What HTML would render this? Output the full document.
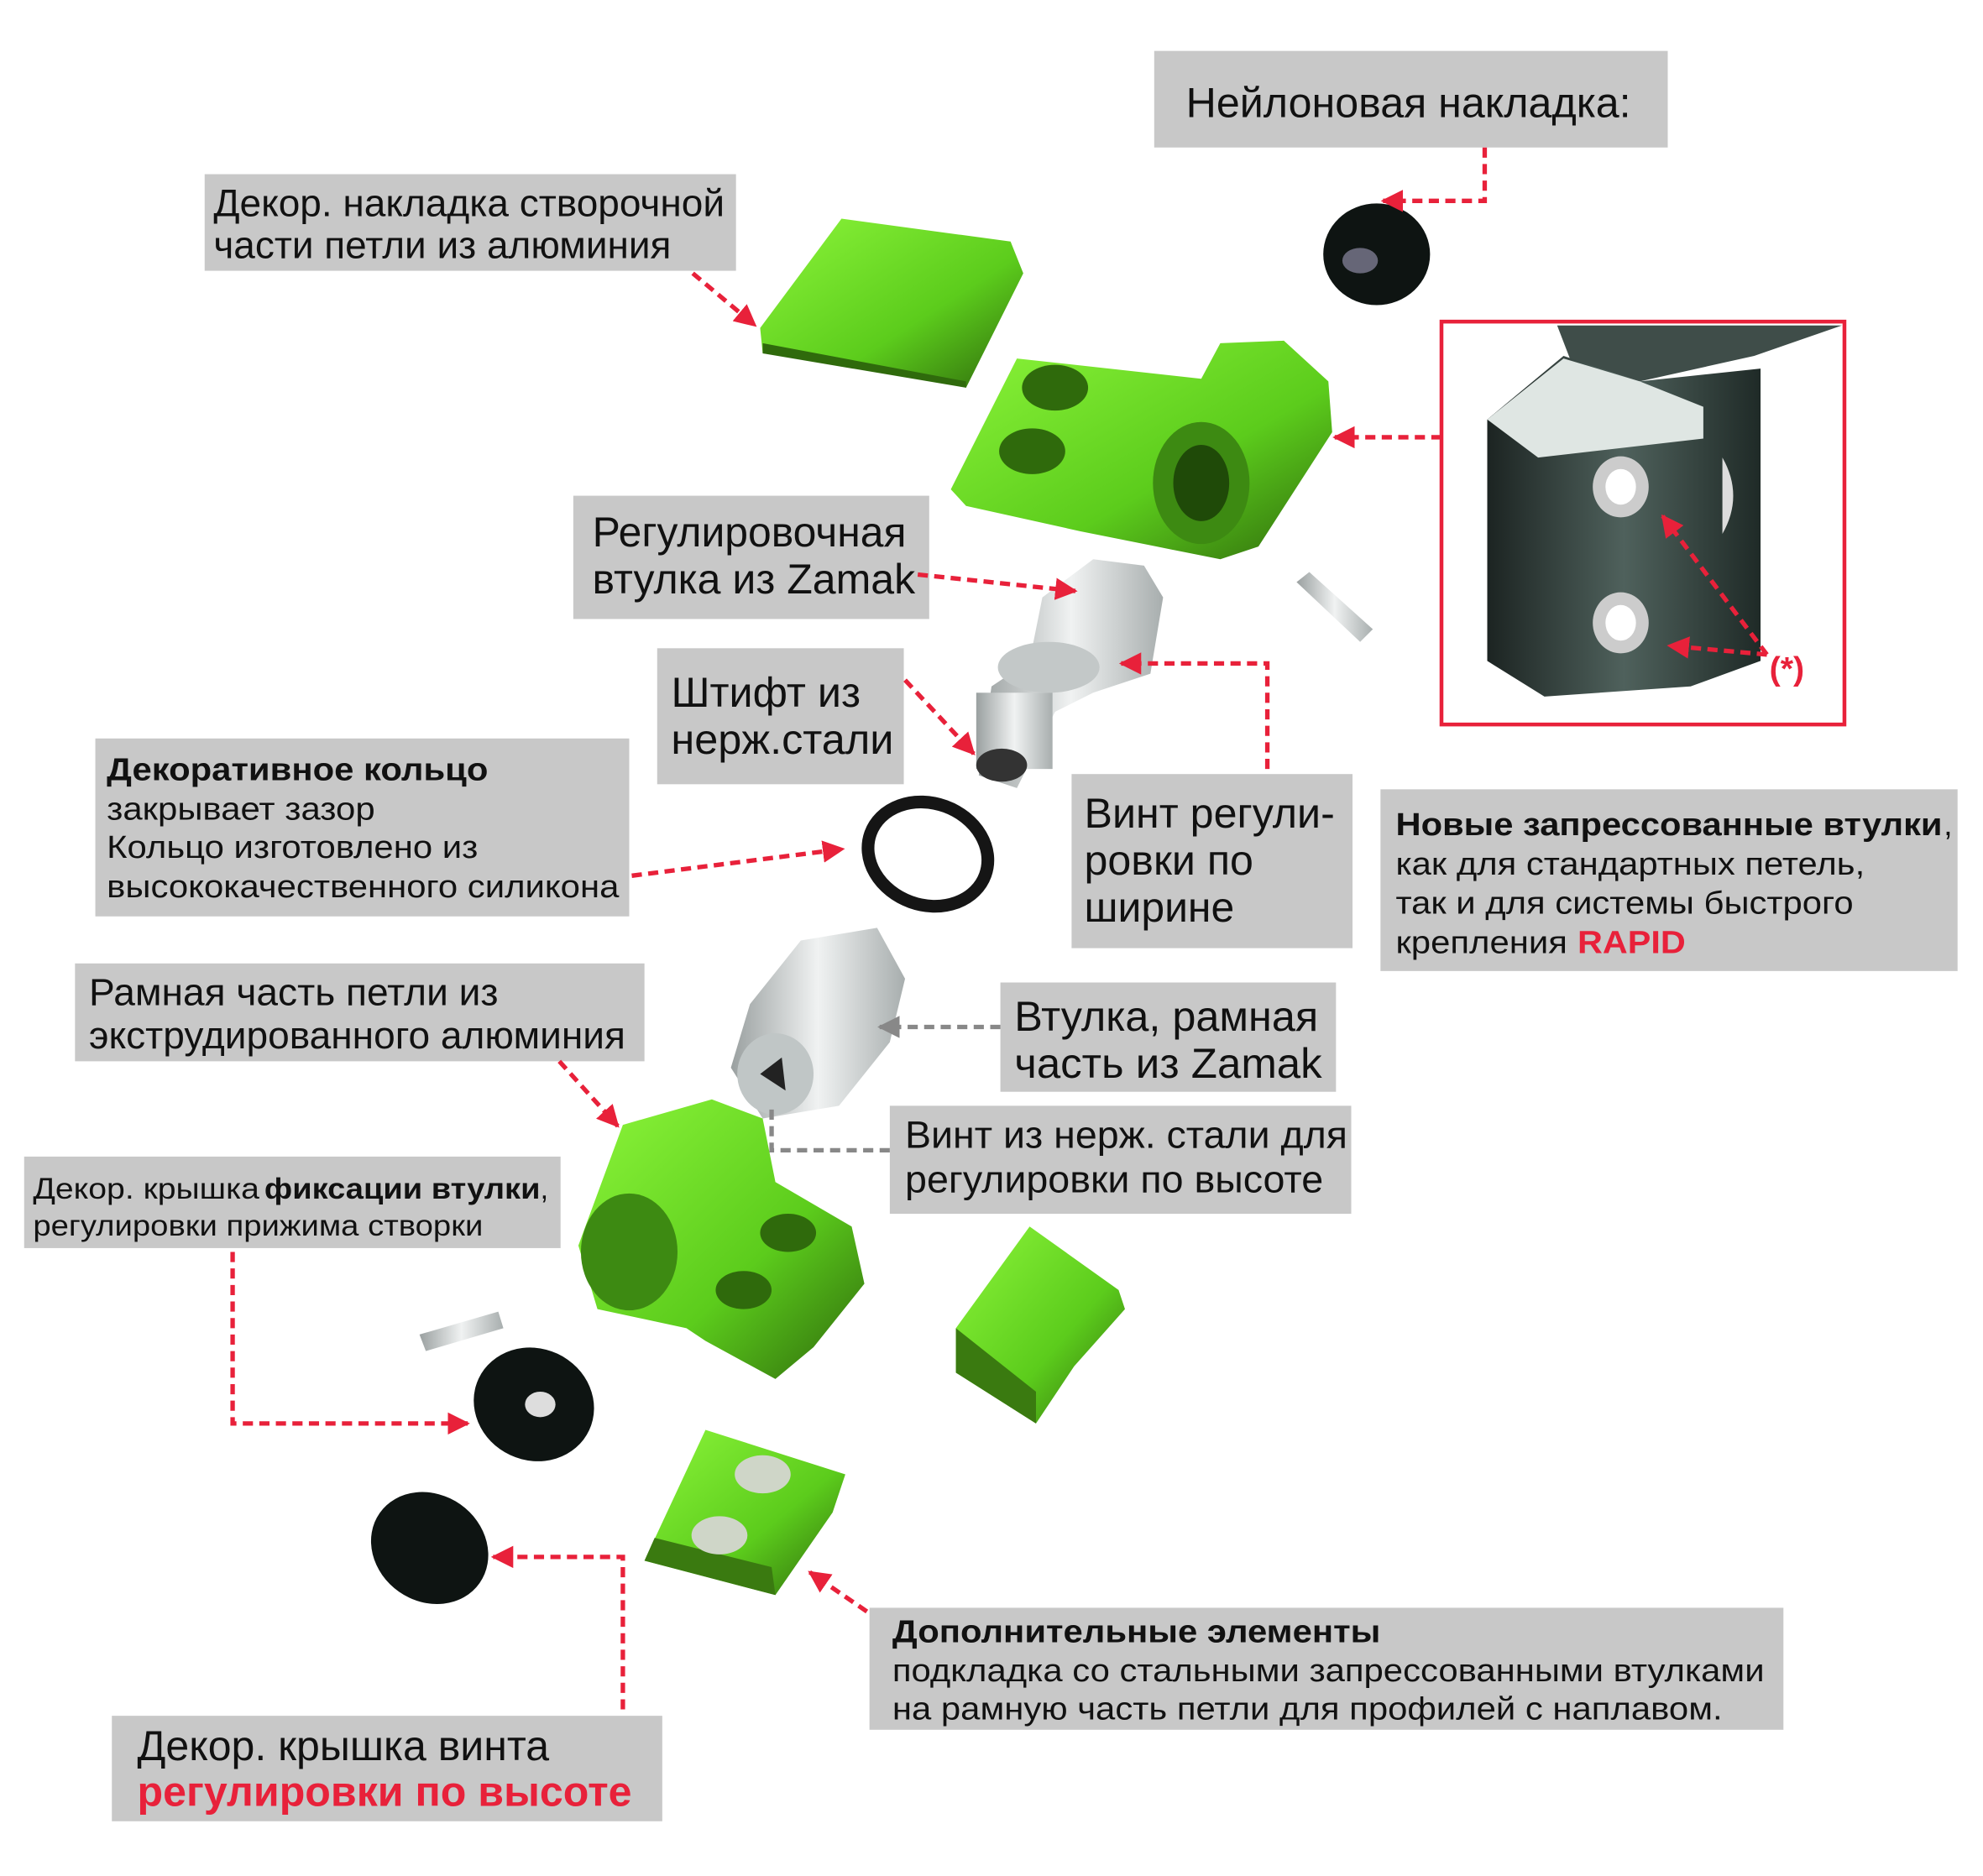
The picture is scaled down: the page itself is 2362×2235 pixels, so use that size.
<!DOCTYPE html>
<html><head><meta charset="utf-8"><style>
html,body{margin:0;padding:0;background:#fff;}
svg{display:block;}
text{font-family:"Liberation Sans","Noto Sans CJK SC",sans-serif;fill:#111;}
</style></head><body>
<svg width="2362" height="2235" viewBox="0 0 1560 1476" xmlns="http://www.w3.org/2000/svg">
<defs>
<marker id="ar" viewBox="0 0 10 10" refX="9" refY="5" markerWidth="5" markerHeight="5" orient="auto"><path d="M0,0 L10,5 L0,10 z" fill="#e8213a"/></marker>
<marker id="ag" viewBox="0 0 10 10" refX="9" refY="5" markerWidth="5" markerHeight="5" orient="auto"><path d="M0,0 L10,5 L0,10 z" fill="#888"/></marker>
<linearGradient id="gr" x1="0" y1="0" x2="1" y2="1"><stop offset="0" stop-color="#8cf53a"/><stop offset="0.6" stop-color="#5ccc1c"/><stop offset="1" stop-color="#2f6a0c"/></linearGradient>
<linearGradient id="mt" x1="0" y1="0" x2="1" y2="0"><stop offset="0" stop-color="#9aa0a0"/><stop offset="0.5" stop-color="#f0f2f2"/><stop offset="1" stop-color="#a8aeae"/></linearGradient>
<linearGradient id="bx" x1="0" y1="0" x2="1" y2="0"><stop offset="0" stop-color="#1c2422"/><stop offset="0.5" stop-color="#4f615c"/><stop offset="1" stop-color="#1f2a27"/></linearGradient>
</defs>

<g fill="#c8c8c8">
<rect x="908" y="40" width="404" height="76"/>
<rect x="161" y="137" width="418" height="76"/>
<rect x="451" y="390" width="280" height="97"/>
<rect x="517" y="510" width="194" height="107"/>
<rect x="75" y="581" width="420" height="140"/>
<rect x="843" y="609" width="221" height="137"/>
<rect x="1086" y="621" width="454" height="143"/>
<rect x="59" y="758" width="448" height="77"/>
<rect x="787" y="773" width="264" height="86"/>
<rect x="700" y="870" width="363" height="85"/>
<rect x="19" y="910" width="422" height="72"/>
<rect x="684" y="1265" width="719" height="96"/>
<rect x="88" y="1350" width="433" height="83"/>
</g>

<path d="M598,258 L662,172 L795,190 L805,215 L760,305 L700,290 L600,278 Z" fill="url(#gr)"/>
<path d="M600,270 L760,300 L760,305 L600,278Z" fill="#2f6a0c"/>
<path d="M748,385 L800,282 L945,298 L960,270 L1010,268 L1045,300 L1048,340 L990,430 L960,440 L910,430 L850,418 L760,398 Z" fill="url(#gr)"/>
<ellipse cx="830" cy="305" rx="26" ry="18" fill="#2f6a0c"/>
<ellipse cx="812" cy="355" rx="26" ry="18" fill="#2f6a0c"/>
<ellipse cx="945" cy="380" rx="38" ry="48" fill="#3d8a12"/>
<ellipse cx="945" cy="380" rx="22" ry="30" fill="#1f4a08"/>
<path d="M1020,458 L1070,505 L1080,495 L1030,450Z" fill="url(#mt)"/>
<ellipse cx="1083" cy="200" rx="42" ry="40" fill="#0e1412"/>
<ellipse cx="1070" cy="205" rx="14" ry="10" fill="#667"/>
<rect x="1134" y="253" width="317" height="317" fill="#fff" stroke="#e8213a" stroke-width="3"/>
<path d="M1225,256 L1449,256 L1380,280 L1290,300 L1240,295Z" fill="#3f4d49"/>
<path d="M1170,330 L1230,280 L1290,300 L1385,290 L1385,520 L1330,540 L1215,548 L1170,520Z" fill="url(#bx)"/>
<path d="M1170,330 L1230,282 L1290,300 L1340,320 L1340,345 L1210,360 Z" fill="#dfe6e3"/>
<ellipse cx="1275" cy="383" rx="22" ry="24" fill="#ccc"/><ellipse cx="1275" cy="383" rx="12" ry="14" fill="#fff"/>
<ellipse cx="1275" cy="490" rx="22" ry="24" fill="#ccc"/><ellipse cx="1275" cy="490" rx="12" ry="14" fill="#fff"/>
<path d="M1355,360 Q1372,390 1355,420 Z" fill="#ddd"/>
<text x="1392" y="535" style="fill:#e8213a;font-weight:bold;font-size:26px">(*)</text>
<path d="M820,470 L860,440 L900,445 L915,470 L905,530 L860,545 L830,560 L800,620 L770,610 L780,540 L810,520Z" fill="url(#mt)"/>
<ellipse cx="825" cy="525" rx="40" ry="20" fill="#c3c8c8"/>
<rect x="768" y="545" width="60" height="60" fill="url(#mt)"/>
<ellipse cx="788" cy="602" rx="20" ry="13" fill="#333"/>
<ellipse cx="730" cy="672" rx="48" ry="40" fill="none" stroke="#151515" stroke-width="10" transform="rotate(20 730 672)"/>
<path d="M630,740 L690,730 L712,770 L700,820 L660,870 L600,880 L575,840 L590,790Z" fill="url(#mt)"/>
<ellipse cx="610" cy="845" rx="30" ry="32" fill="#c0c6c6"/>
<path d="M598,845 L615,832 L618,858Z" fill="#222"/>
<path d="M455,980 L490,885 L560,865 L600,880 L610,930 L670,965 L680,1010 L640,1060 L610,1085 L555,1055 L540,1045 L470,1030 Z" fill="url(#gr)"/>
<ellipse cx="495" cy="985" rx="38" ry="46" fill="#3d8a12"/>
<ellipse cx="620" cy="970" rx="22" ry="15" fill="#2f6a0c"/>
<ellipse cx="585" cy="1015" rx="22" ry="15" fill="#2f6a0c"/>
<path d="M752,1045 L810,965 L880,1015 L885,1030 L845,1075 L815,1120 L752,1080Z" fill="url(#gr)"/>
<path d="M752,1045 L815,1095 L815,1120 L752,1080Z" fill="#3a7a10"/>
<path d="M507,1228 L555,1125 L665,1160 L655,1190 L610,1255 Z" fill="url(#gr)"/>
<path d="M507,1228 L610,1255 L607,1233 L515,1210Z" fill="#3a7a10"/>
<ellipse cx="600" cy="1160" rx="22" ry="15" fill="#cfd6c8"/>
<ellipse cx="566" cy="1208" rx="22" ry="15" fill="#cfd6c8"/>
<path d="M330,1050 L392,1032 L396,1045 L335,1063Z" fill="url(#mt)"/>
<ellipse cx="420" cy="1105" rx="48" ry="44" fill="#0e1412" transform="rotate(25 420 1105)"/>
<ellipse cx="425" cy="1105" rx="12" ry="10" fill="#ddd"/>
<ellipse cx="338" cy="1218" rx="48" ry="42" fill="#0e1412" transform="rotate(35 338 1218)"/>

<g fill="none" stroke="#e8213a" stroke-width="3.5" stroke-dasharray="8,5">
<path d="M1168,116 L1168,158 L1088,158" marker-end="url(#ar)"/>
<path d="M1134,344 L1050,344" marker-end="url(#ar)"/>
<path d="M545,215 L594,256" marker-end="url(#ar)"/>
<path d="M722,452 L846,465" marker-end="url(#ar)"/>
<path d="M997,605 L997,522 L882,522" marker-end="url(#ar)"/>
<path d="M712,535 L766,593" marker-end="url(#ar)"/>
<path d="M497,689 L663,668" marker-end="url(#ar)"/>
<path d="M440,835 L486,886" marker-end="url(#ar)"/>
<path d="M183,985 L183,1120 L368,1120" marker-end="url(#ar)"/>
<path d="M490,1345 L490,1225 L388,1225" marker-end="url(#ar)"/>
<path d="M682,1268 L637,1237" marker-end="url(#ar)"/>
<path d="M1390,515 L1308,406" marker-end="url(#ar)"/>
<path d="M1390,515 L1313,508" marker-end="url(#ar)"/>
</g>
<g fill="none" stroke="#888" stroke-width="3.5" stroke-dasharray="8,5">
<path d="M787,808 L692,808" marker-end="url(#ag)"/>
<path d="M700,905 L607,905 L607,872"/>
</g>

<g lengthAdjust="spacingAndGlyphs">
<text x="933" y="92" font-size="33" textLength="350" lengthAdjust="spacingAndGlyphs">Нейлоновая накладка:</text>
<text x="168" y="170" font-size="30" textLength="402" lengthAdjust="spacingAndGlyphs">Декор. накладка створочной</text>
<text x="168" y="203" font-size="30" textLength="360" lengthAdjust="spacingAndGlyphs">части петли из алюминия</text>
<text x="466" y="430" font-size="33" textLength="247" lengthAdjust="spacingAndGlyphs">Регулировочная</text>
<text x="466" y="467" font-size="33" textLength="254" lengthAdjust="spacingAndGlyphs">втулка из Zamak</text>
<text x="528" y="556" font-size="33" textLength="149" lengthAdjust="spacingAndGlyphs">Штифт из</text>
<text x="528" y="593" font-size="33" textLength="175" lengthAdjust="spacingAndGlyphs">нерж.стали</text>
<text x="84" y="614" font-size="25" font-weight="bold" textLength="300" lengthAdjust="spacingAndGlyphs">Декоративное кольцо</text>
<text x="84" y="645" font-size="25" textLength="211" lengthAdjust="spacingAndGlyphs">закрывает зазор</text>
<text x="84" y="675" font-size="25" textLength="292" lengthAdjust="spacingAndGlyphs">Кольцо изготовлено из</text>
<text x="84" y="706" font-size="25" textLength="403" lengthAdjust="spacingAndGlyphs">высококачественного силикона</text>
<text x="853" y="651" font-size="33" textLength="197" lengthAdjust="spacingAndGlyphs">Винт регули-</text>
<text x="853" y="688" font-size="33" textLength="133" lengthAdjust="spacingAndGlyphs">ровки по</text>
<text x="853" y="725" font-size="33" textLength="118" lengthAdjust="spacingAndGlyphs">ширине</text>
<text x="1098" y="657" font-size="25" font-weight="bold" textLength="430" lengthAdjust="spacingAndGlyphs">Новые запрессованные втулки</text>
<text x="1529" y="657" font-size="25">,</text>
<text x="1098" y="688" font-size="25" textLength="369" lengthAdjust="spacingAndGlyphs">как для стандартных петель,</text>
<text x="1098" y="719" font-size="25" textLength="360" lengthAdjust="spacingAndGlyphs">так и для системы быстрого</text>
<text x="1098" y="750" font-size="25" textLength="135" lengthAdjust="spacingAndGlyphs">крепления</text>
<text x="1241" y="750" font-size="25" font-weight="bold" style="fill:#e8213a" textLength="85" lengthAdjust="spacingAndGlyphs">RAPID</text>
<text x="70" y="791" font-size="30" textLength="322" lengthAdjust="spacingAndGlyphs">Рамная часть петли из</text>
<text x="70" y="825" font-size="30" textLength="422" lengthAdjust="spacingAndGlyphs">экструдированного алюминия</text>
<text x="798" y="811" font-size="33" textLength="239" lengthAdjust="spacingAndGlyphs">Втулка, рамная</text>
<text x="798" y="848" font-size="33" textLength="242" lengthAdjust="spacingAndGlyphs">часть из Zamak</text>
<text x="712" y="903" font-size="30" textLength="348" lengthAdjust="spacingAndGlyphs">Винт из нерж. стали для</text>
<text x="712" y="938" font-size="30" textLength="329" lengthAdjust="spacingAndGlyphs">регулировки по высоте</text>
<text x="26" y="943" font-size="23" textLength="178" lengthAdjust="spacingAndGlyphs">Декор. крышка</text>
<text x="208" y="943" font-size="23" font-weight="bold" textLength="217" lengthAdjust="spacingAndGlyphs">фиксации втулки</text>
<text x="425" y="943" font-size="23">,</text>
<text x="26" y="972" font-size="23" textLength="354" lengthAdjust="spacingAndGlyphs">регулировки прижима створки</text>
<text x="702" y="1292" font-size="25" font-weight="bold" textLength="384" lengthAdjust="spacingAndGlyphs">Дополнительные элементы</text>
<text x="702" y="1323" font-size="25" textLength="686" lengthAdjust="spacingAndGlyphs">подкладка со стальными запрессованными втулками</text>
<text x="702" y="1353" font-size="25" textLength="653" lengthAdjust="spacingAndGlyphs">на рамную часть петли для профилей с наплавом.</text>
<text x="108" y="1385" font-size="33" textLength="324" lengthAdjust="spacingAndGlyphs">Декор. крышка винта</text>
<text x="108" y="1421" font-size="33" font-weight="bold" style="fill:#e8213a" textLength="389" lengthAdjust="spacingAndGlyphs">регулировки по высоте</text>
</g>
</svg>
</body></html>
